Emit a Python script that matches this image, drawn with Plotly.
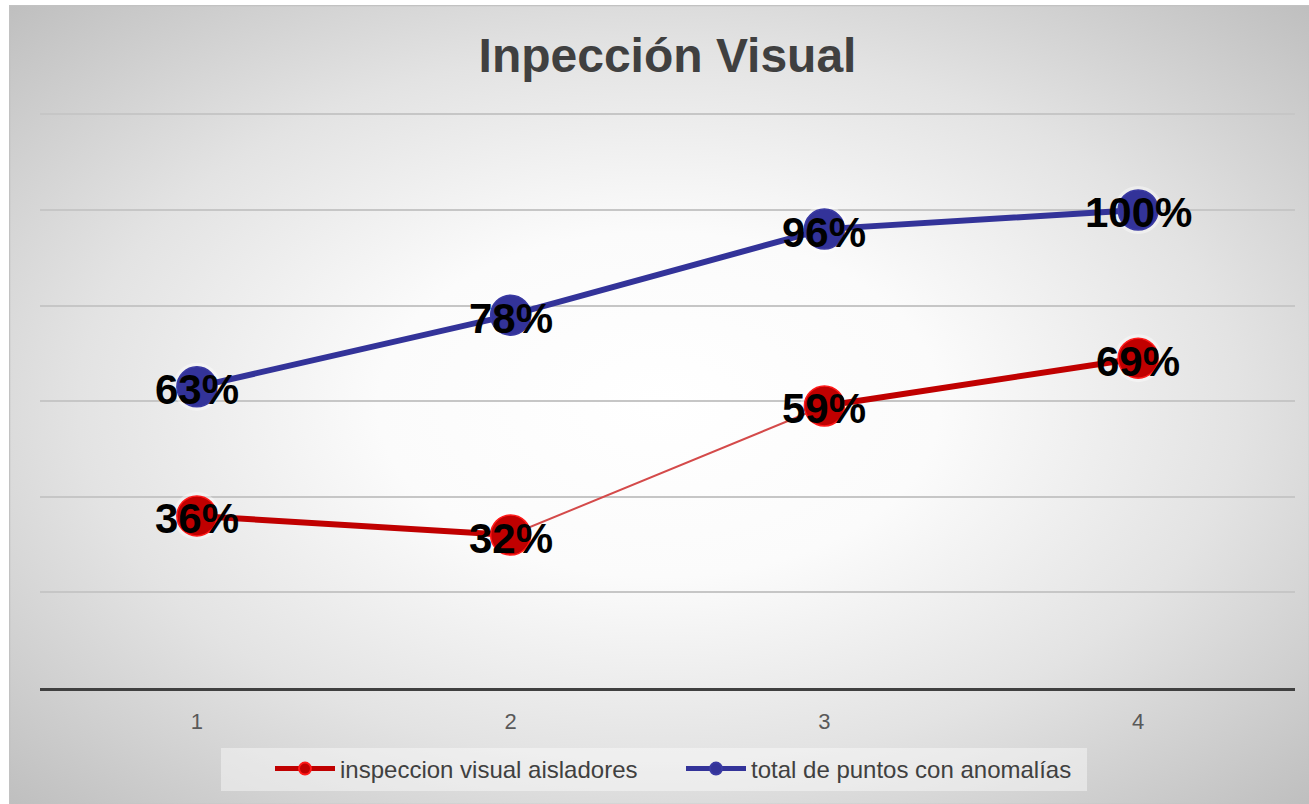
import base64
import plotly.graph_objects as go

# ---- data -------------------------------------------------------------
categories = [1, 2, 3, 4]
tick_labels = ["1", "2", "3", "4"]
inspeccion = [0.36, 0.32, 0.59, 0.69]
total_anomalias = [0.63, 0.78, 0.96, 1.00]
series_names = ["inspeccion visual aisladores", "total de puntos con anomalías"]
# the red series is drawn thick on these segments, thin elsewhere
thick_segments = [(0, 1), (2, 3)]

RED = "#c00000"
RED_RIM = "#ff1a1a"
BLUE = "#333399"
TEXT_GREY = "#404040"
FONT = "Liberation Sans, Arial, sans-serif"

W, H = 1309, 804
Y_MAX = 1.205
L, R, B = 40, 14, 116
T = 112


def segment_path(xs, ys, segs):
    px, py = [], []
    for a, b in segs:
        if px:
            px.append(None)
            py.append(None)
        px.extend(xs[a:b + 1])
        py.extend(ys[a:b + 1])
    return px, py


def pct(v):
    return f"{round(v * 100)}%"


# radial grey-to-white card background
svg = f"""<svg xmlns='http://www.w3.org/2000/svg' width='{W}' height='{H}' preserveAspectRatio='none'>
<defs><radialGradient id='g' cx='50%' cy='50%' r='72%'>
<stop offset='0' stop-color='#ffffff'/>
<stop offset='0.3' stop-color='#fbfbfb'/>
<stop offset='0.62' stop-color='#e3e3e3'/>
<stop offset='1' stop-color='#bdbdbd'/>
</radialGradient></defs>
<rect width='100%' height='100%' fill='url(#g)'/>
<rect x='0.5' y='0.5' width='{W}' height='{H}' fill='none' stroke='#c2c2c2' stroke-width='1.5'/>
</svg>"""
bg_uri = "data:image/svg+xml;base64," + base64.b64encode(svg.encode()).decode()

pw = W - L - R
ph = H - T - B
def px_x(p):
    return (p - L) / pw
def px_y(p):
    return (H - B - p) / ph

fig = go.Figure()

# soft white glow beneath the markers
for ys in (inspeccion, total_anomalias):
    fig.add_trace(go.Scatter(
        x=categories, y=ys, mode="markers", showlegend=False, hoverinfo="skip",
        marker=dict(size=48, color="rgba(255,255,255,0.4)", line=dict(width=0)),
    ))

# red series: thin connector everywhere, thick on selected segments
fig.add_trace(go.Scatter(
    x=categories, y=inspeccion, mode="lines", showlegend=False, hoverinfo="skip",
    line=dict(color="#d44a4a", width=2),
))
tx, ty = segment_path(categories, inspeccion, thick_segments)
fig.add_trace(go.Scatter(
    x=tx, y=ty, mode="lines+markers", name=series_names[0], connectgaps=False,
    line=dict(color=RED, width=6),
    marker=dict(size=40, color=RED, line=dict(color=RED_RIM, width=1.5)),
))

fig.add_trace(go.Scatter(
    x=categories, y=total_anomalias, mode="lines+markers", name=series_names[1],
    line=dict(color=BLUE, width=6),
    marker=dict(size=40, color=BLUE, line=dict(color="#3a3aa3", width=1.5)),
))

# data labels on top of the markers
annotations = []
for ys in (inspeccion, total_anomalias):
    for x, v in zip(categories, ys):
        annotations.append(dict(
            x=x, y=v, xref="x", yref="y", text=pct(v), showarrow=False,
            xanchor="center", yanchor="middle", yshift=-3,
            font=dict(family=FONT, size=42, color="#000000", weight="bold"),
        ))

fig.update_layout(
    width=W, height=H,
    margin=dict(l=L, r=R, t=T, b=B, pad=0),
    paper_bgcolor="#ffffff",
    plot_bgcolor="rgba(0,0,0,0)",
    title=dict(
        text="<b>Inpección Visual</b>", x=0.5, xref="paper", xanchor="center",
        y=1 - 55 / H, yref="container", yanchor="middle",
        font=dict(family=FONT, size=48, color=TEXT_GREY),
    ),
    xaxis=dict(
        range=[0.5, 4.5], tickmode="array", tickvals=categories, ticktext=tick_labels,
        showgrid=False, zeroline=False, showline=True, linecolor="#404040", linewidth=3,
        ticks="", ticklabelstandoff=12,
        tickfont=dict(family=FONT, size=22, color="#595959"),
        fixedrange=True,
    ),
    yaxis=dict(
        range=[0, Y_MAX], tickmode="array", tickvals=[0.2, 0.4, 0.6, 0.8, 1.0, 1.2],
        showticklabels=False, showgrid=True,
        gridcolor="#c6c6c6", gridwidth=1.5, zeroline=False, showline=False,
        fixedrange=True,
    ),
    legend=dict(
        orientation="h", x=px_x(270), xanchor="left", y=px_y(769), yanchor="middle",
        bgcolor="rgba(0,0,0,0)", itemwidth=60, itemsizing="constant",
        entrywidth=336, entrywidthmode="pixels",
        font=dict(family=FONT, size=24, color=TEXT_GREY),
    ),
    annotations=annotations,
    images=[dict(
        source=bg_uri, xref="paper", yref="paper",
        x=px_x(9), y=px_y(5), sizex=px_x(W) - px_x(9), sizey=px_y(5) - px_y(H),
        xanchor="left", yanchor="top", sizing="stretch", layer="below",
    )],
    shapes=[dict(
        type="rect", xref="paper", yref="paper", layer="below",
        x0=px_x(221), x1=px_x(1087), y0=px_y(791), y1=px_y(748),
        fillcolor="rgba(255,255,255,0.42)", line=dict(width=0),
    )],
    showlegend=True,
)

fig.write_html("out.html")
